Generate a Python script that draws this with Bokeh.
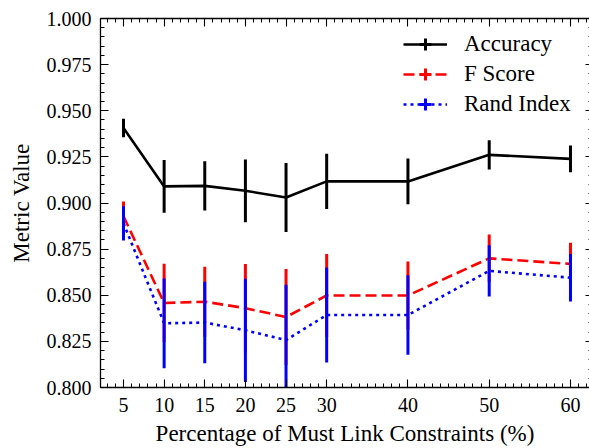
import numpy as np
from bokeh.plotting import figure
from bokeh.models import (ColumnDataSource, Range1d, FixedTicker, LinearAxis,
                          Legend, LegendItem, CustomLabelingPolicy)
from bokeh.embed import file_html
from bokeh.resources import INLINE

# ---- data ----
pct = [5, 10, 15, 20, 25, 30, 40, 50, 60]
accuracy = [0.9407, 0.9090, 0.9093, 0.9066, 0.9030, 0.9117, 0.9117, 0.9261, 0.9239]
accuracy_err = [0.0050, 0.0143, 0.0133, 0.0170, 0.0187, 0.0150, 0.0124, 0.0079, 0.0073]
fscore = [0.8928, 0.8458, 0.8465, 0.8430, 0.8382, 0.8499, 0.8499, 0.8700, 0.8670]
fscore_err = [0.0080, 0.0213, 0.0190, 0.0240, 0.0260, 0.0225, 0.0184, 0.0129, 0.0114]
rand_index = [0.8890, 0.8348, 0.8352, 0.8310, 0.8257, 0.8393, 0.8393, 0.8632, 0.8595]
rand_err = [0.0093, 0.0243, 0.0221, 0.0280, 0.0300, 0.0258, 0.0215, 0.0139, 0.0129]

x_ticks = [5, 10, 15, 20, 25, 30, 40, 50, 60]
y_ticks = [0.800, 0.825, 0.850, 0.875, 0.900, 0.925, 0.950, 0.975, 1.000]

FONT = "Liberation Serif"
TICK_FS = "20px"
LABEL_FS = "23px"
LEGEND_FS = "23px"

p = figure(width=589, height=448, output_backend="svg", toolbar_location=None,
           x_range=Range1d(2.17, 62.34), y_range=Range1d(0.8, 1.0),
           min_border_left=100, min_border_right=0, min_border_top=18,
           min_border_bottom=60)
p.outline_line_color = None
p.xgrid.visible = False
p.ygrid.visible = False
p.background_fill_color = "white"
p.border_fill_color = "white"

xt = FixedTicker(ticks=x_ticks, minor_ticks=list(np.arange(3, 63, 1.0)))
yt = FixedTicker(ticks=y_ticks, minor_ticks=list(np.round(np.arange(0.8, 1.0001, 0.005), 3)))

hide_all = CustomLabelingPolicy(code="""
for (const i of indices) { indices.unset(i) }
return indices
""")


def style_axis(ax, show_labels=True):
    ax.axis_line_color = "black"
    ax.axis_line_width = 1.3
    ax.major_tick_line_color = "black"
    ax.minor_tick_line_color = "black"
    ax.major_tick_line_width = 1.1
    ax.minor_tick_line_width = 1
    ax.major_tick_in = 8
    ax.major_tick_out = 0
    ax.minor_tick_in = 4
    ax.minor_tick_out = 0
    ax.major_label_text_font = FONT
    ax.axis_label_text_font = FONT
    ax.axis_label_text_font_style = "normal"
    ax.major_label_text_color = "black"
    ax.axis_label_text_color = "black"
    if show_labels:
        ax.major_label_text_font_size = TICK_FS
        ax.axis_label_text_font_size = LABEL_FS
    else:
        ax.major_label_text_font_size = "0px"
        ax.major_label_standoff = 0
        ax.major_label_policy = hide_all


xa = p.xaxis[0]
xa.ticker = xt
style_axis(xa)
xa.major_label_standoff = 10
xa.axis_label = "Percentage of Must Link Constraints (%)"
xa.axis_label_standoff = 6

ya = p.yaxis[0]
ya.ticker = yt
style_axis(ya)
ya.major_label_standoff = 9
ya.major_label_overrides = {v: f"{v:.3f}" for v in y_ticks}
ya.axis_label = "Metric Value"
ya.axis_label_standoff = 10

top = LinearAxis(ticker=xt)
style_axis(top, show_labels=False)
p.add_layout(top, "above")

right = LinearAxis(ticker=yt)
style_axis(right, show_labels=False)
right.axis_line_color = None
right.major_tick_in = 4
right.minor_tick_in = 1
p.add_layout(right, "right")

series = [
    ("Accuracy", accuracy, accuracy_err, "black", "solid"),
    ("F Score", fscore, fscore_err, "#ff0000", "11 5"),
    ("Rand Index", rand_index, rand_err, "#0000ff", "3 4"),
]

items = []
for label, vals, errs, color, dash in series:
    lo = [v - e for v, e in zip(vals, errs)]
    hi = [v + e for v, e in zip(vals, errs)]
    src = ColumnDataSource(dict(x=pct, y=vals, lo=lo, hi=hi))
    lr = p.line("x", "y", source=src, line_color=color, line_width=2.6,
                line_dash=dash)
    p.segment(x0="x", y0="lo", x1="x", y1="hi", source=src,
              line_color=color, line_width=3)
    # zero-size markers: invisible on the plot, give the legend its error-bar tick
    mr = p.scatter("x", "y", source=src, marker="cross", size=0,
                   line_color=color, line_width=3)
    items.append(LegendItem(label=label, renderers=[lr, mr]))

legend = Legend(items=items, location=(303, 268), orientation="vertical",
                border_line_color=None, background_fill_alpha=0,
                padding=0, margin=0, spacing=0,
                glyph_width=44, glyph_height=30, label_height=30,
                label_standoff=17, label_text_font=FONT,
                label_text_font_size=LEGEND_FS, label_text_color="black")
p.add_layout(legend, "center")

open("out.html", "w").write(file_html(p, INLINE))
